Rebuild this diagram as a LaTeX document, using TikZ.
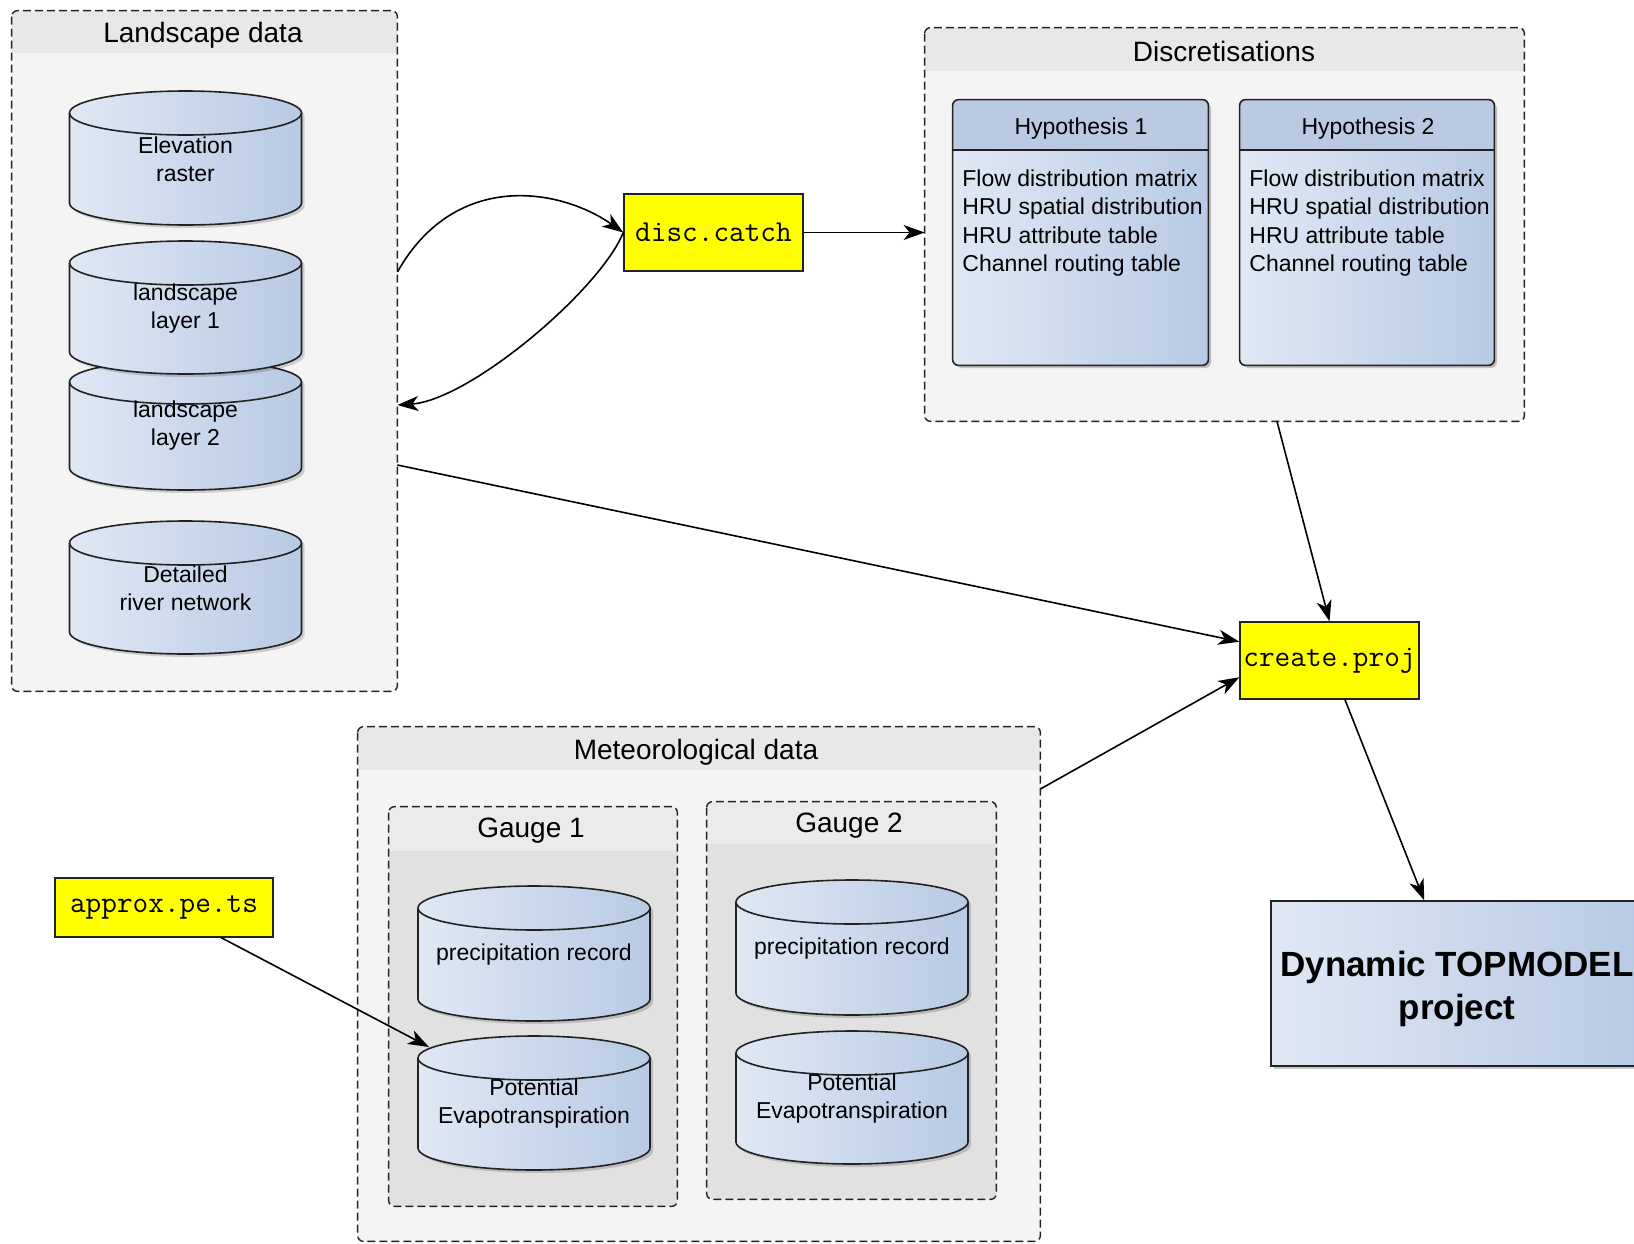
\documentclass[tikz,border=0pt]{standalone}
\usepackage{fontspec}
\setmainfont{Liberation Sans}
\usetikzlibrary{arrows.meta,shadows,calc}
\definecolor{grpfill}{HTML}{F4F4F4}
\definecolor{grpband}{HTML}{E8E8E8}
\definecolor{gfill}{HTML}{E1E1E1}
\definecolor{gband}{HTML}{EBEBEB}
\definecolor{cylL}{HTML}{E0E8F4}
\definecolor{cylR}{HTML}{B8CAE4}
\definecolor{hdr}{HTML}{B9CAE2}
\definecolor{lineg}{HTML}{222222}
\definecolor{yel}{HTML}{FFFF00}
\tikzset{
 arr/.style={draw=black, line width=0.8pt, -{Stealth[length=10.5pt,width=7.5pt,inset=3pt]}},
 grpborder/.style={draw=lineg, line width=0.7pt, dash pattern=on 4pt off 2pt, rounded corners=3pt},
 ttl/.style={font=\fontsize{14}{16}\selectfont, inner sep=0pt},
 bodytxt/.style={font=\fontsize{11.5}{14.3}\selectfont, align=left, anchor=north west, inner sep=0pt},
 hdrtxt/.style={font=\fontsize{11.5}{14}\selectfont, inner sep=0pt},
 codebox/.style={draw=lineg, line width=0.7pt, fill=yel, inner sep=0pt, font=\ttfamily\fontsize{15.2}{17}\selectfont},
 cyltxt/.style={inner sep=0pt, align=center, font=\fontsize{11.5}{14}\selectfont},
 shad/.style={drop shadow={shadow xshift=1.5pt, shadow yshift=-1.5pt, opacity=0.22, fill=black}},
 hypbody/.style={left color=cylL, right color=cylR, rounded corners=3pt, inner sep=0pt, shad},
}
% group box: name, cx, cy, width, height, band bottom y, fill, band colour
\newcommand\grpbox[8]{%
 \node[fill=#7, rounded corners=3pt, minimum width=#4, minimum height=#5, inner sep=0pt] (#1) at (#2,#3) {};
 \begin{scope}
  \clip[rounded corners=3pt] (#1.north west) rectangle (#1.south east);
  \fill[#8] (#1.north west) rectangle (#1.east |- 0,#6);
 \end{scope}
 \draw[grpborder] (#1.north west) rectangle (#1.south east);
}
% cylinder: name, cx, ytop, ybottom, text
\newcommand\dbcyl[5]{%
 \fill[black, opacity=0.16] ({#2-113},{#3+25}) -- ({#2-113},{#4-19}) arc[start angle=180,end angle=360,x radius=58pt,y radius=11pt] -- ({#2+119},{#3+25}) arc[start angle=0,end angle=180,x radius=58pt,y radius=11pt] -- cycle;
 \draw[draw=lineg, line width=0.8pt, left color=cylL, right color=cylR] ({#2-116},{#3+22}) -- ({#2-116},{#4-22}) arc[start angle=180,end angle=360,x radius=58pt,y radius=11pt] -- ({#2+116},{#3+22}) arc[start angle=0,end angle=180,x radius=58pt,y radius=11pt] -- cycle;
 \draw[draw=lineg, line width=0.8pt] ({#2-116},{#3+22}) arc[start angle=180,end angle=360,x radius=58pt,y radius=11pt];
 \node[cyltxt, minimum width=116pt, minimum height={(#4-#3)*0.5pt}] (#1) at (#2,{(#3+#4)/2+1}) {#5};
}
\begin{document}
\begin{tikzpicture}[x=0.5pt,y=-0.5pt]
\fill[white] (0,0) rectangle (1634,1243);
\useasboundingbox (0,0) rectangle (1634,1243);

% ---------- group boxes ----------
\grpbox{land}{204.5}{351}{192.5pt}{340pt}{53}{grpfill}{grpband}
\node[ttl] (landt) at (203,35) {Landscape data};
\grpbox{dgrp}{1224.5}{224.5}{299.5pt}{196.5pt}{71}{grpfill}{grpband}
\node[ttl] (disct) at (1224,51) {Discretisations};
\grpbox{met}{699}{984}{341pt}{257pt}{770}{grpfill}{grpband}
\node[ttl] (mett) at (696,752) {Meteorological data};
\grpbox{gone}{533}{1006.5}{144pt}{199.5pt}{851}{gfill}{gband}
\node[ttl] (gonet) at (531,831) {Gauge 1};
\grpbox{gtwo}{851.5}{1000.5}{144.5pt}{198.5pt}{844}{gfill}{gband}
\node[ttl] (gtwot) at (849,826) {Gauge 2};

% ---------- cylinders ----------
\dbcyl{elev}{185.5}{91}{225}{Elevation\\raster}
\dbcyl{laytwo}{185.5}{360}{490}{landscape\\layer 2}
\dbcyl{layone}{185.5}{241}{374}{landscape\\layer 1}
\dbcyl{river}{185.5}{521}{654}{Detailed\\river network}
\dbcyl{pone}{534}{886}{1021}{precipitation record}
\dbcyl{eone}{534}{1036}{1170}{Potential\\Evapotranspiration}
\dbcyl{ptwo}{852}{880}{1015}{precipitation record}
\dbcyl{etwo}{852}{1031}{1164}{Potential\\Evapotranspiration}

% ---------- hypothesis boxes ----------
\node[hypbody, minimum width=127.5pt, minimum height=132.5pt] (hypone) at (1080.5,232.5) {};
\begin{scope}
 \clip[rounded corners=3pt] (hypone.north west) rectangle (hypone.south east);
 \fill[hdr] (hypone.north west) rectangle (hypone.east |- 0,150);
\end{scope}
\draw[draw=lineg, line width=0.8pt] (hypone.west |- 0,150) -- (hypone.east |- 0,150);
\draw[draw=lineg, line width=0.8pt, rounded corners=3pt] (hypone.north west) rectangle (hypone.south east);
\node[hdrtxt] (hyponet) at (1081,129) {Hypothesis 1};
\node[bodytxt] (hyponeb) at (962,169) {Flow distribution matrix\\HRU spatial distribution\\HRU attribute table\\Channel routing table};

\node[hypbody, minimum width=127pt, minimum height=132.5pt] (hyptwo) at (1367,232.5) {};
\begin{scope}
 \clip[rounded corners=3pt] (hyptwo.north west) rectangle (hyptwo.south east);
 \fill[hdr] (hyptwo.north west) rectangle (hyptwo.east |- 0,150);
\end{scope}
\draw[draw=lineg, line width=0.8pt] (hyptwo.west |- 0,150) -- (hyptwo.east |- 0,150);
\draw[draw=lineg, line width=0.8pt, rounded corners=3pt] (hyptwo.north west) rectangle (hyptwo.south east);
\node[hdrtxt] (hyptwot) at (1368,129) {Hypothesis 2};
\node[bodytxt] (hyptwob) at (1249,169) {Flow distribution matrix\\HRU spatial distribution\\HRU attribute table\\Channel routing table};

% ---------- function boxes ----------
\node[codebox, minimum width=89.5pt, minimum height=38.5pt] (disc) at (713.5,232.5) {disc.catch};
\node[codebox, minimum width=89.5pt, minimum height=38.5pt] (create) at (1329.5,660.5) {create.proj};
\node[codebox, minimum width=109pt, minimum height=29.5pt] (ape) at (164,907.5) {approx.pe.ts};

\node[draw=lineg, line width=0.7pt, left color=cylL, right color=cylR, minimum width=186pt, minimum height=82.5pt, inner sep=0pt, shad] (dyn) at (1457,983.5) {};
\node[align=center, inner sep=0pt, font=\bfseries\fontsize{17.5}{21.5}\selectfont] (dyntxt) at (1457,989) {Dynamic TOPMODEL\\project};

% ---------- connectors ----------
\coordinate (lone) at (land.east |- 0,272);
\coordinate (ltwo) at (land.east |- 0,405);
\coordinate (lthree) at (land.east |- 0,465);
\coordinate (done) at (dgrp.south -| 1277,0);
\coordinate (mone) at (met.east |- 0,789);
\coordinate (eonein) at (429,1047);

\draw[arr] (lone) .. controls (455,170) and (560,188) .. (disc.west);
\draw[arr] (disc.west) .. controls (600,290) and (470,400) .. (ltwo);
\draw[arr] (disc.east) -- (disc.east -| dgrp.west);
\draw[arr] (lthree) -- (create);
\draw[arr] (done) -- (create.north);
\draw[arr] (mone) -- ($(create.south west)!0.286!(create.north west)$);
\draw[arr] (create) -- (dyn);
\draw[arr] (ape) -- (eonein);
\end{tikzpicture}
\end{document}
